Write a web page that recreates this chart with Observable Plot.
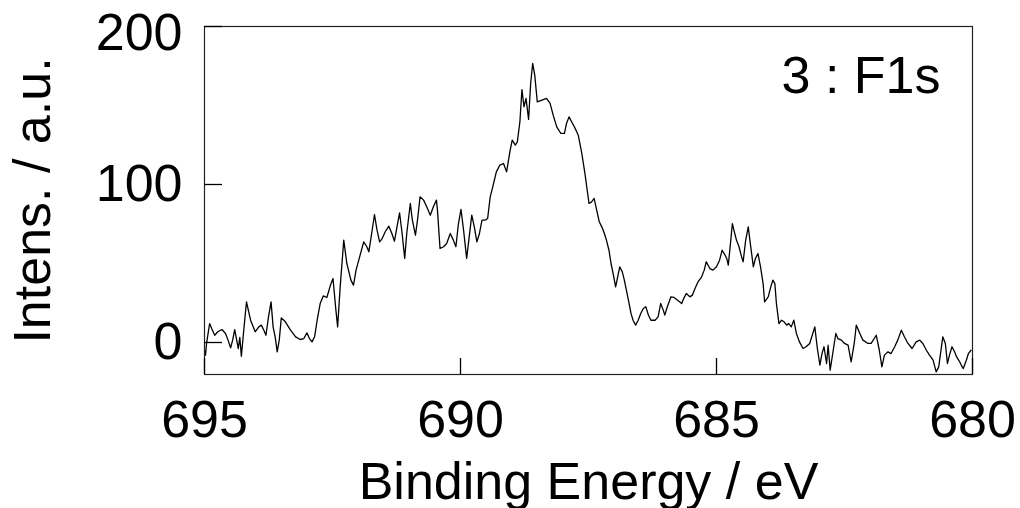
<!DOCTYPE html>
<html><head><meta charset="utf-8">
<script src="https://cdn.jsdelivr.net/npm/d3@7"></script>
<script src="https://cdn.jsdelivr.net/npm/@observablehq/plot@0.6"></script>
<style>html,body{margin:0;padding:0;background:#fff}</style>
</head><body><div id="chart"></div>
<script>
const energy = [
695.00,694.98,694.96,694.90,694.86,694.80,694.74,694.66,694.59,694.54,
694.49,694.45,694.41,694.34,694.31,694.28,694.23,694.18,694.10,694.01,
693.94,693.89,693.84,693.80,693.75,693.70,693.66,693.62,693.58,693.54,
693.50,693.42,693.32,693.22,693.13,693.06,693.00,692.95,692.90,692.85,
692.80,692.74,692.68,692.61,692.54,692.49,692.44,692.40,692.35,692.28,
692.22,692.14,692.09,692.04,691.97,691.89,691.83,691.79,691.73,691.68,
691.63,691.58,691.53,691.47,691.40,691.34,691.29,691.24,691.19,691.14,
691.09,691.05,690.98,690.94,690.88,690.84,690.79,690.72,690.66,690.59,
690.53,690.47,690.45,690.40,690.33,690.27,690.20,690.14,690.09,690.04,
689.99,689.94,689.88,689.83,689.78,689.73,689.68,689.63,689.58,689.52,
689.47,689.42,689.37,689.30,689.23,689.16,689.10,689.03,688.99,688.93,
688.89,688.84,688.80,688.76,688.72,688.67,688.63,688.59,688.55,688.50,
688.41,688.32,688.25,688.19,688.12,688.04,687.97,687.93,687.88,687.83,
687.76,687.70,687.63,687.57,687.49,687.44,687.39,687.34,687.29,687.24,
687.19,687.15,687.10,687.06,687.02,686.97,686.93,686.89,686.84,686.80,
686.76,686.72,686.67,686.63,686.58,686.53,686.48,686.43,686.38,686.33,
686.28,686.20,686.14,686.09,686.04,686.01,685.96,685.89,685.83,685.76,
685.68,685.64,685.59,685.52,685.47,685.42,685.36,685.29,685.24,685.20,
685.13,685.07,685.00,684.94,684.89,684.85,684.80,684.77,684.74,684.69,
684.66,684.61,684.56,684.51,684.48,684.43,684.38,684.34,684.28,684.24,
684.19,684.14,684.09,684.06,683.99,683.94,683.90,683.86,683.83,683.78,
683.73,683.68,683.63,683.59,683.54,683.49,683.44,683.38,683.31,683.25,
683.18,683.13,683.08,683.03,682.98,682.94,682.90,682.85,682.82,682.78,
682.72,682.67,682.63,682.56,682.50,682.43,682.37,682.31,682.27,682.20,
682.14,682.04,681.98,681.88,681.82,681.77,681.72,681.65,681.59,681.52,
681.46,681.39,681.33,681.26,681.18,681.10,681.03,680.97,680.90,680.84,
680.77,680.71,680.66,680.62,680.58,680.53,680.49,680.45,680.40,680.35,
680.31,680.25,680.22,680.18,680.12,680.08,680.03
];
const intensity = [
-4.9,-8.0,-0.6,12.0,8.9,4.6,6.8,8.2,5.7,1.5,
-3.4,1.5,8.2,-3.8,3.2,-8.7,8.9,25.7,14.1,6.8,
9.9,11.0,7.8,4.6,16.2,25.7,9.9,3.6,-5.9,1.5,
15.6,13.1,7.8,3.6,1.9,2.5,6.1,2.5,0.4,3.6,
14.1,24.7,29.5,28.5,36.3,40.5,22.6,9.9,35.2,64.8,
50.0,39.5,36.3,45.8,54.2,63.7,60.6,57.4,70.1,81.0,
71.1,63.7,65.8,70.1,73.6,69.0,64.1,73.2,82.1,69.0,
53.2,69.0,88.0,77.4,67.9,77.4,92.2,90.1,85.9,80.6,
85.9,90.1,83.8,59.5,60.6,62.7,69.0,64.8,60.6,75.3,
84.2,71.1,53.2,66.9,80.6,73.2,63.7,69.0,77.4,77.4,
78.5,92.2,98.5,108.0,112.3,113.3,108.0,121.7,128.1,124.9,
127.0,139.7,160.1,149.2,154.5,141.2,163.9,176.6,169.2,152.3,
153.4,154.5,151.3,143.9,136.5,132.3,132.3,138.6,142.8,139.7,
135.5,131.2,119.6,107.0,88.0,89.0,91.2,83.8,76.4,73.2,
69.0,64.8,58.4,50.0,43.7,35.2,41.6,47.9,44.7,39.5,
33.1,26.8,18.4,14.1,11.0,14.1,18.4,21.5,22.6,17.3,
14.1,14.1,16.2,24.7,20.5,17.3,22.6,28.9,28.5,26.8,
24.7,27.9,31.0,28.9,30.0,34.2,38.4,41.6,45.8,51.1,
46.8,45.8,47.9,52.1,58.4,56.3,53.2,49.0,58.4,75.3,
71.1,64.8,60.6,54.2,51.1,64.8,73.2,62.7,47.9,53.2,
56.3,47.9,37.3,25.7,28.9,35.2,39.5,37.3,24.7,12.0,
14.1,13.1,11.0,12.0,9.9,14.1,5.7,0.4,-3.8,-2.7,
-0.6,4.6,9.9,-3.8,-14.3,-7.0,-2.7,-13.3,-1.7,-17.5,
-4.9,5.7,2.5,1.5,-0.6,-1.7,-12.2,-0.6,11.0,5.7,
1.5,-0.6,-0.6,4.6,-4.9,-15.4,-8.0,-5.9,-7.0,-2.7,
1.5,7.8,3.6,-0.6,-3.8,0.4,1.5,-0.6,-4.9,-8.0,
-11.2,-18.6,-15.4,-5.9,3.6,-0.6,-13.3,-8.0,-2.7,-5.9,
-9.1,-12.2,-14.3,-16.5,-11.2,-7.0,-4.9
];
const xTicks = [695, 690, 685, 680];
const yTicks = [0, 100, 200];
const xLabel = "Binding Energy / eV";
const yLabel = "Intens. / a.u.";
const panelLabel = "3 : F1s";

const data = energy.map((e, i) => ({e, v: intensity[i]}));
const W = 1020, H = 508, mL = 204, mR = 48, mT = 26, mB = 134;
const innerW = W - mL - mR, innerH = H - mT - mB;
const FS = 52;

const chart = Plot.plot({
  width: W, height: H,
  marginLeft: mL, marginRight: mR, marginTop: mT, marginBottom: mB,
  style: {fontFamily: "'Liberation Sans', Arial, sans-serif", background: "white", color: "black"},
  x: {domain: [695, 680]},
  y: {domain: [-20.25, 200]},
  marks: [
    Plot.line(data, {x: "e", y: "v", stroke: "black", strokeWidth: 1.3, clip: true}),
    Plot.frame({stroke: "#222", strokeWidth: 1.2}),
    Plot.ruleX(xTicks, {x: d => d, insetTop: innerH - 16, stroke: "black", strokeWidth: 1.3}),
    Plot.ruleY(yTicks, {y: d => d, insetRight: innerW - 18, stroke: "black", strokeWidth: 1.3}),
    Plot.axisX(xTicks, {tickSize: 0, tickPadding: 26, fontSize: FS, label: null}),
    Plot.axisY(yTicks.slice(0, 2), {tickSize: 0, tickPadding: 22, fontSize: FS, label: null}),
    Plot.axisY(yTicks.slice(2), {tickSize: 0, tickPadding: 22, fontSize: FS, label: null, dy: 7}),
    Plot.text([xLabel], {text: d => d, frameAnchor: "bottom", textAnchor: "middle", lineAnchor: "bottom", dy: 124, fontSize: FS, fill: "black"}),
    Plot.text([yLabel], {text: d => d, frameAnchor: "left", textAnchor: "middle", rotate: -90, lineAnchor: "bottom", dx: -155, fontSize: FS, fill: "black"}),
    Plot.text([panelLabel], {text: d => d, frameAnchor: "top-right", textAnchor: "end", lineAnchor: "bottom", dx: -32, dy: 66, fontSize: FS, fill: "black"})
  ]
});
document.getElementById("chart").appendChild(chart);
</script>
</body></html>
